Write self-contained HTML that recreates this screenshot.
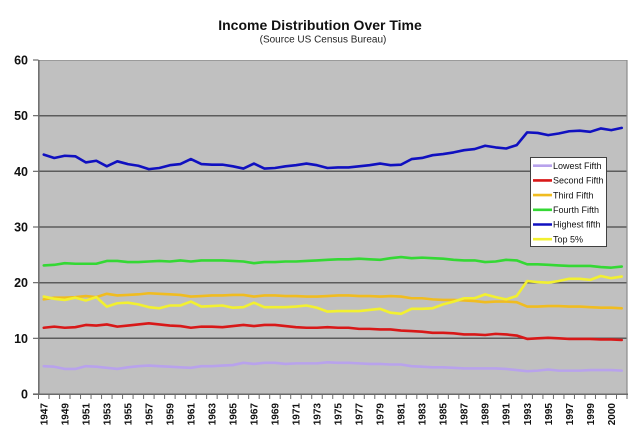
<!DOCTYPE html>
<html><head><meta charset="utf-8"><style>
html,body{margin:0;padding:0;background:#fff;}
svg{display:block;font-family:"Liberation Sans",Arial,sans-serif;}
</style></head><body>
<svg id="c" width="640" height="437" viewBox="0 0 640 437" xmlns="http://www.w3.org/2000/svg">
<rect x="0" y="0" width="640" height="437" fill="#ffffff"/>
<text x="320" y="30" text-anchor="middle" font-size="14" font-weight="bold" fill="#111">Income Distribution Over Time</text>
<text x="323" y="42.5" text-anchor="middle" font-size="10" fill="#222">(Source US Census Bureau)</text>
<rect x="38.5" y="60" width="588.5" height="334" fill="#c0c0c0"/>
<g stroke="#5c5c5c" stroke-width="1.5">
<line x1="38.5" y1="115.7" x2="627" y2="115.7"/>
<line x1="38.5" y1="171.3" x2="627" y2="171.3"/>
<line x1="38.5" y1="227" x2="627" y2="227"/>
<line x1="38.5" y1="282.7" x2="627" y2="282.7"/>
<line x1="38.5" y1="338.3" x2="627" y2="338.3"/>
</g>
<line x1="38.5" y1="60.5" x2="627" y2="60.5" stroke="#9a9a9a" stroke-width="1"/>
<line x1="627" y1="60" x2="627" y2="394" stroke="#8a8a8a" stroke-width="1.2"/>
<line x1="38.8" y1="60" x2="38.8" y2="394.5" stroke="#6a6a6a" stroke-width="1.5"/>
<line x1="33" y1="394.3" x2="628" y2="394.3" stroke="#6a6a6a" stroke-width="1.5"/>
<g id="yt" stroke="#6a6a6a" stroke-width="1.2"></g>
<g id="xt" stroke="#6a6a6a" stroke-width="1"></g>
<g font-size="12.5" font-weight="bold" fill="#111" text-anchor="end">
<text x="28" y="64.5">60</text>
<text x="28" y="120.2">50</text>
<text x="28" y="175.8">40</text>
<text x="28" y="231.5">30</text>
<text x="28" y="287.2">20</text>
<text x="28" y="342.8">10</text>
<text x="28" y="398.5">0</text>
</g>
<g id="xl" font-size="10" font-weight="bold" fill="#111" text-anchor="end"></g>
<g id="series" fill="none" stroke-width="2.6" stroke-linejoin="round" stroke-linecap="round"></g>
<rect x="530.5" y="157.5" width="76" height="89" fill="#ffffff" stroke="#404040" stroke-width="1"/>
<g stroke-width="2.6">
<line x1="533" y1="165.7" x2="552" y2="165.7" stroke="#b8a2ec"/>
<line x1="533" y1="180.4" x2="552" y2="180.4" stroke="#d81818"/>
<line x1="533" y1="195.1" x2="552" y2="195.1" stroke="#f0bc20"/>
<line x1="533" y1="209.8" x2="552" y2="209.8" stroke="#34d834"/>
<line x1="533" y1="224.5" x2="552" y2="224.5" stroke="#1010c0"/>
<line x1="533" y1="239.2" x2="552" y2="239.2" stroke="#f2f030"/>
</g>
<g font-size="9" fill="#111">
<text x="553" y="168.9">Lowest Fifth</text>
<text x="553" y="183.6">Second Fifth</text>
<text x="553" y="198.3">Third Fifth</text>
<text x="553" y="213">Fourth Fifth</text>
<text x="553" y="227.7">Highest fifth</text>
<text x="553" y="242.4">Top 5%</text>
</g>
</svg>
<script>
(function(){
var NS="http://www.w3.org/2000/svg";
var x0=38.5,x1=627,n=56,w=(x1-x0)/n;
function X(i){return x0+w*(i+0.5);}
function Y(v){return 394-v*(334/60);}
var yt=document.getElementById('yt');
for(var k=0;k<=6;k++){var l=document.createElementNS(NS,'line');var yy=394-k*334/6;l.setAttribute('x1',33);l.setAttribute('x2',38.5);l.setAttribute('y1',yy);l.setAttribute('y2',yy);yt.appendChild(l);}
var xt=document.getElementById('xt');
for(var k=0;k<=n;k++){var l=document.createElementNS(NS,'line');var xx=x0+w*k;l.setAttribute('x1',xx);l.setAttribute('x2',xx);l.setAttribute('y1',394);l.setAttribute('y2',399);xt.appendChild(l);}
var xl=document.getElementById('xl');
for(var i=0;i<=54;i+=2){var t=document.createElementNS(NS,'text');var lab=(i<=52)?String(1947+i):"2000";var xx=X(i)+3.6,yy=403;t.setAttribute('x',xx);t.setAttribute('y',yy);t.setAttribute('transform','rotate(-90 '+xx+' '+yy+')');t.textContent=lab;xl.appendChild(t);}
var L=[5.0,4.9,4.5,4.5,5.0,4.9,4.7,4.5,4.8,5.0,5.1,5.0,4.9,4.8,4.7,5.0,5.0,5.1,5.2,5.6,5.4,5.6,5.6,5.4,5.5,5.5,5.5,5.7,5.6,5.6,5.5,5.4,5.4,5.3,5.3,5.0,4.9,4.8,4.8,4.7,4.6,4.6,4.6,4.6,4.5,4.3,4.1,4.2,4.4,4.2,4.2,4.2,4.3,4.3,4.3,4.2];
var S=[11.9,12.1,11.9,12.0,12.4,12.3,12.5,12.1,12.3,12.5,12.7,12.5,12.3,12.2,11.9,12.1,12.1,12.0,12.2,12.4,12.2,12.4,12.4,12.2,12.0,11.9,11.9,12.0,11.9,11.9,11.7,11.7,11.6,11.6,11.4,11.3,11.2,11.0,11.0,10.9,10.7,10.7,10.6,10.8,10.7,10.5,9.9,10.0,10.1,10.0,9.9,9.9,9.9,9.8,9.8,9.7];
var T=[17.0,17.3,17.3,17.4,17.6,17.4,18.0,17.7,17.8,17.9,18.1,18.0,17.9,17.8,17.5,17.6,17.7,17.7,17.8,17.8,17.5,17.7,17.7,17.6,17.6,17.5,17.5,17.6,17.7,17.7,17.6,17.6,17.5,17.6,17.5,17.2,17.2,17.0,16.9,16.9,16.8,16.7,16.5,16.6,16.6,16.5,15.7,15.7,15.8,15.8,15.7,15.7,15.6,15.5,15.5,15.4];
var F=[23.1,23.2,23.5,23.4,23.4,23.4,23.9,23.9,23.7,23.7,23.8,23.9,23.8,24.0,23.8,24.0,24.0,24.0,23.9,23.8,23.5,23.7,23.7,23.8,23.8,23.9,24.0,24.1,24.2,24.2,24.3,24.2,24.1,24.4,24.6,24.4,24.5,24.4,24.3,24.1,24.0,24.0,23.7,23.8,24.1,24.0,23.3,23.3,23.2,23.1,23.0,23.0,23.0,22.8,22.7,22.9];
var H=[43.0,42.4,42.8,42.7,41.6,41.9,40.9,41.8,41.3,41.0,40.4,40.6,41.1,41.3,42.2,41.3,41.2,41.2,40.9,40.5,41.4,40.5,40.6,40.9,41.1,41.4,41.1,40.6,40.7,40.7,40.9,41.1,41.4,41.1,41.2,42.2,42.4,42.9,43.1,43.4,43.8,44.0,44.6,44.3,44.1,44.7,47.0,46.9,46.5,46.8,47.2,47.3,47.1,47.7,47.4,47.8];
var P=[17.5,17.1,16.9,17.3,16.8,17.4,15.7,16.3,16.4,16.1,15.6,15.4,15.9,15.9,16.6,15.7,15.8,15.9,15.5,15.6,16.4,15.6,15.6,15.6,15.7,15.9,15.5,14.8,14.9,14.9,14.9,15.1,15.3,14.6,14.4,15.3,15.3,15.4,16.1,16.6,17.2,17.2,17.9,17.4,17.0,17.6,20.3,20.1,20.0,20.3,20.7,20.7,20.5,21.2,20.8,21.1];
var g=document.getElementById('series');
function add(d,c){var p=document.createElementNS(NS,'polyline');var s=[];for(var i=0;i<d.length;i++)s.push(X(i).toFixed(2)+','+Y(d[i]).toFixed(2));p.setAttribute('points',s.join(' '));p.setAttribute('stroke',c);g.appendChild(p);}
add(L,'#b8a2ec');add(S,'#d81818');add(F,'#34d834');add(H,'#1010c0');add(T,'#f0bc20');add(P,'#f2f030');
})();
</script>
</body></html>
